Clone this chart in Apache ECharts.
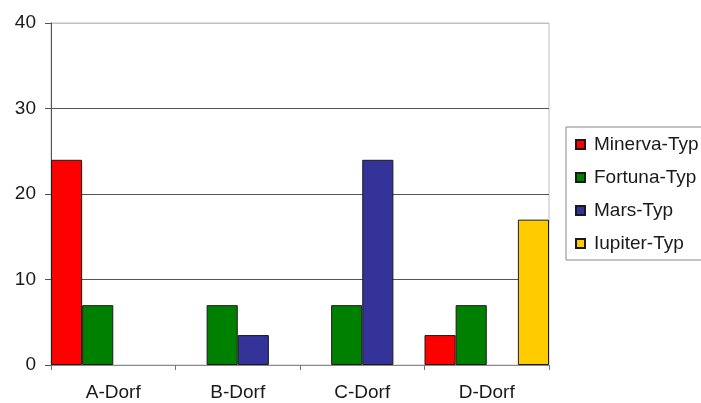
<!DOCTYPE html>
<html><head><meta charset="utf-8">
<script src="https://cdn.jsdelivr.net/npm/echarts@6/dist/echarts.min.js"></script>
<style>html,body{margin:0;padding:0;background:#fff}#c{width:701px;height:403px}</style>
</head><body><div id="c"></div>
<script>
const categories = ['A-Dorf', 'B-Dorf', 'C-Dorf', 'D-Dorf'];
const seriesNames = ['Minerva-Typ', 'Fortuna-Typ', 'Mars-Typ', 'Iupiter-Typ'];
const minerva = [24, 0, 0, 3.5];
const fortuna = [7, 7, 7, 7];
const mars = [0, 3.5, 24, 0];
const iupiter = [0, 0, 0, 17];
const colors = ['#FF0000', '#008000', '#333399', '#FFCC00'];
const yTicks = [0, 10, 20, 30, 40];

const allValues = [minerva, fortuna, mars, iupiter];
const font = '"Liberation Sans", Arial, sans-serif';
const chart = echarts.init(document.getElementById('c'), null, {renderer: 'canvas'});
chart.setOption({
  animation: false,
  backgroundColor: '#fff',
  grid: {left: 51, right: 152, top: 23, bottom: 38, show: true, borderColor: '#c0c0c0', borderWidth: 1, backgroundColor: 'transparent'},
  legend: {
    orient: 'vertical', left: 566, top: 127,
    data: seriesNames,
    icon: 'rect', itemWidth: 9, itemHeight: 9, itemGap: 14,
    padding: [8, 6, 7, 9],
    borderColor: '#888', borderWidth: 1,
    textStyle: {fontSize: 19, color: '#1a1a1a', fontFamily: font, padding: [0, 0, 0, 4]}
  },
  xAxis: {
    type: 'category', data: categories,
    axisLine: {lineStyle: {color: '#8a8a8a', width: 1}},
    axisTick: {show: true, length: 5, lineStyle: {color: '#777'}},
    axisLabel: {fontSize: 19, color: '#1a1a1a', fontFamily: font, margin: 18},
    splitLine: {show: false}
  },
  yAxis: {
    type: 'value', min: yTicks[0], max: yTicks[yTicks.length - 1], interval: 10,
    axisLine: {show: true, lineStyle: {color: '#555', width: 1}},
    axisTick: {show: true, length: 6, lineStyle: {color: '#555'}},
    axisLabel: {fontSize: 19, color: '#1a1a1a', fontFamily: font, margin: 15},
    splitLine: {show: true, lineStyle: {color: ['#555', '#555', '#555', '#555', '#c0c0c0'], width: 1}}
  },
  series: seriesNames.map((name, i) => ({
    name, type: 'bar',
    barGap: '0%', barCategoryGap: '0%',
    data: allValues[i].map(v => v === 0 ? '-' : v),
    itemStyle: {color: colors[i], borderColor: '#1a1a1a', borderWidth: 1}
  }))
});
</script></body></html>
